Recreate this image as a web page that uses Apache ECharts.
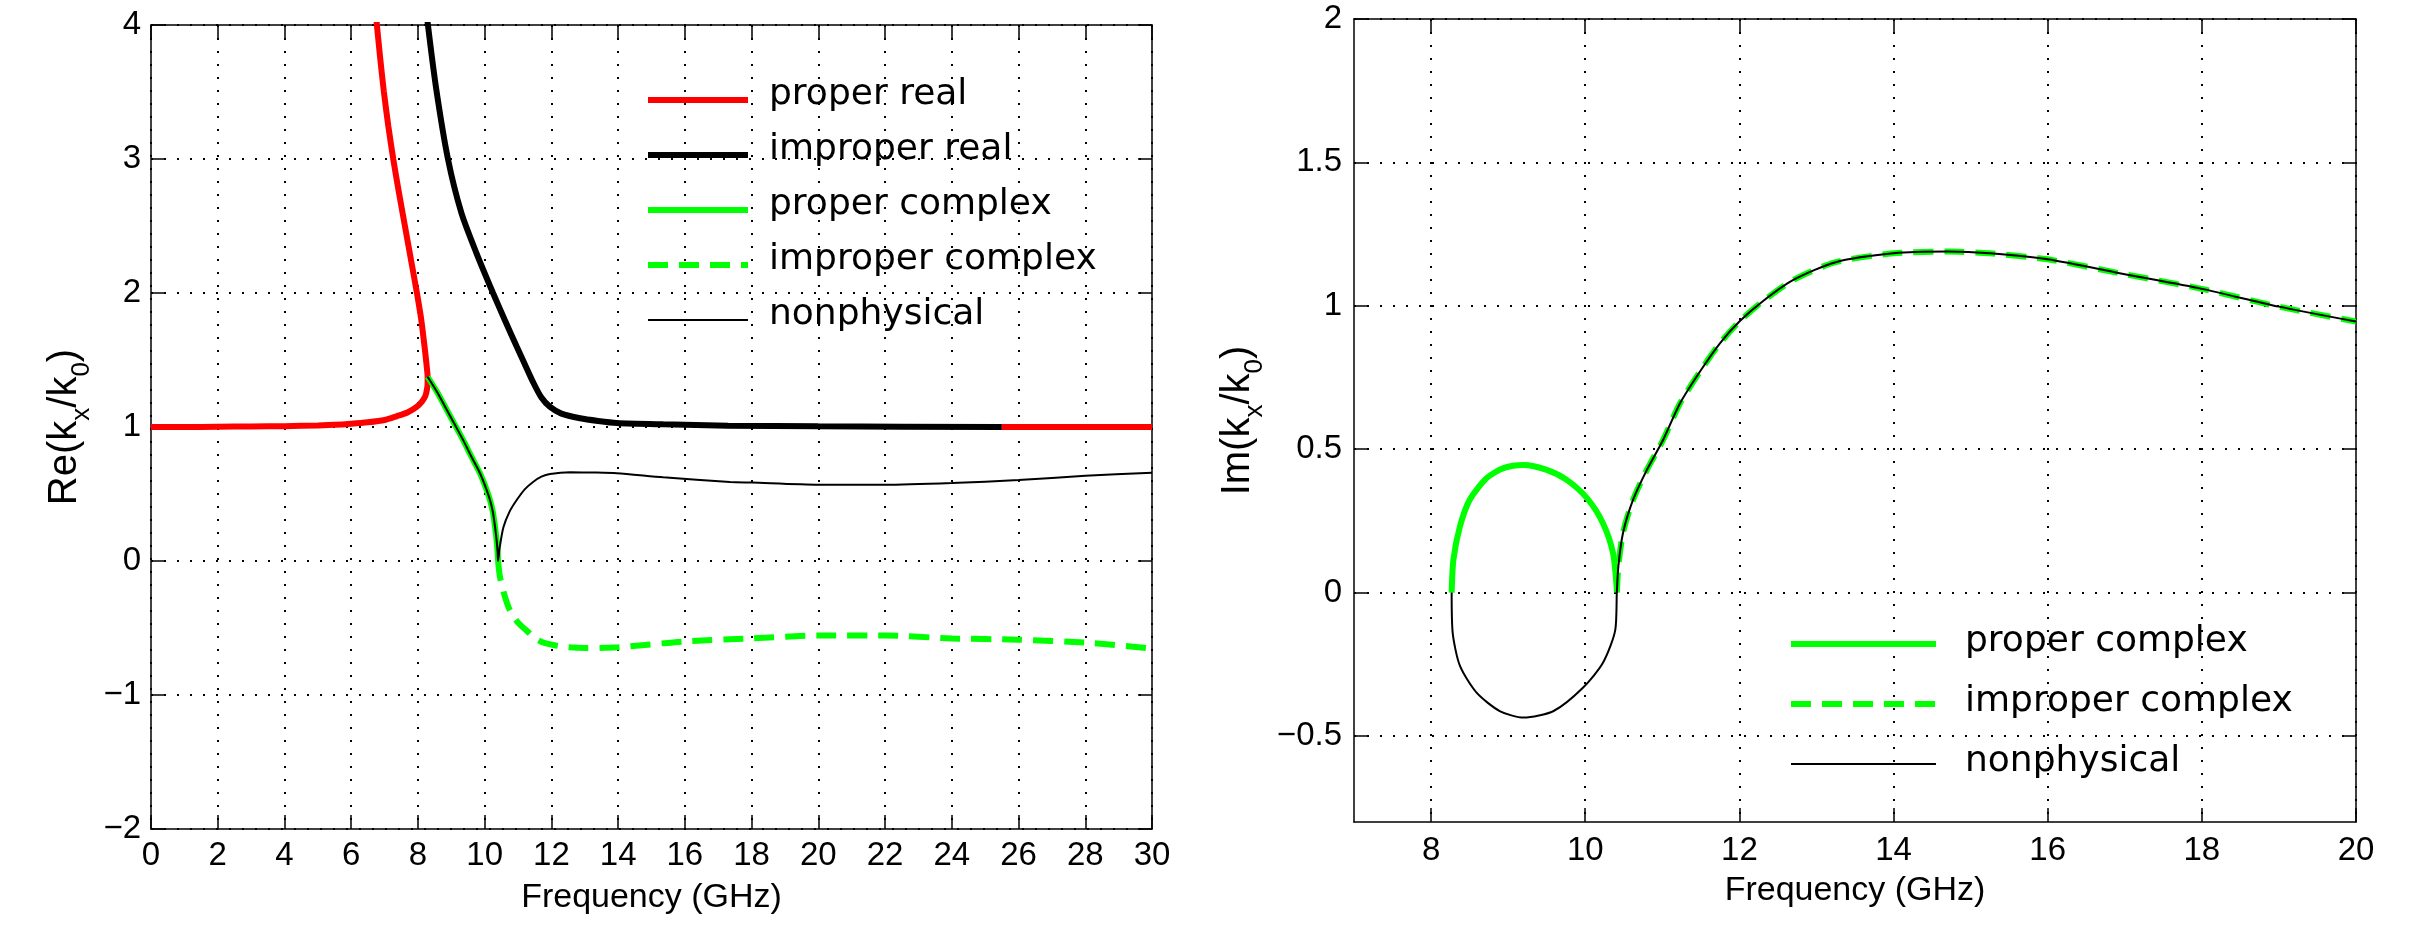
<!DOCTYPE html>
<html>
<head>
<meta charset="utf-8">
<script src="https://cdn.jsdelivr.net/npm/echarts@6/dist/echarts.min.js"></script>
<style>
html, body { margin: 0; padding: 0; background: #fff; }
#chart { width: 2420px; height: 933px; }
</style>
</head>
<body>
<div id="chart"></div>
<script>
// Re(kx/k0) panel -- [GHz, value]; branches are parametric so x is not monotonic
const reProperReal = [[0,1.0],[1,1.0],[2,1.002],[3,1.004],[4,1.006],[5,1.012],[5.5,1.016],[6,1.024],[6.5,1.035],[7,1.052],[7.36,1.08],[7.7,1.11],[7.96,1.15],[8.12,1.19],[8.22,1.23],[8.27,1.28],[8.29,1.33],[8.29,1.375],[8.26,1.46],[8.21,1.575],[8.1,1.8],[7.97,2.0],[7.79,2.25],[7.61,2.5],[7.43,2.75],[7.26,3.0],[7.11,3.25],[6.98,3.5],[6.87,3.75],[6.77,4.0],[6.69,4.2]];
const reProperRealTail = [[25.5,1.0],[30,1.0]];
const reImproperReal = [[8.22,4.2],[8.3,4.0],[8.55,3.52],[8.9,3.0],[9.3,2.6],[9.75,2.3],[10.25,2.0],[10.6,1.8],[10.96,1.6],[11.2,1.47],[11.46,1.33],[11.7,1.22],[11.96,1.15],[12.3,1.1],[12.86,1.065],[13.4,1.045],[13.96,1.03],[15.35,1.02],[17.3,1.01],[20,1.005],[25.5,1.0]];
const reProperComplex = [[8.29,1.375],[8.6,1.25],[8.86,1.13],[9.1,1.02],[9.36,0.9],[9.6,0.78],[9.86,0.655],[10.0,0.57],[10.16,0.455],[10.25,0.36],[10.31,0.256],[10.36,0.15],[10.39,0.06],[10.4,0]];
const reImproperComplex = [[10.4,0],[10.46,-0.12],[10.6,-0.26],[10.76,-0.37],[11.0,-0.46],[11.26,-0.52],[11.5,-0.575],[11.76,-0.61],[12.36,-0.64],[13,-0.65],[14,-0.644],[16,-0.6],[18,-0.578],[20,-0.556],[22,-0.556],[24,-0.578],[26,-0.587],[28,-0.609],[30,-0.653]];
const reNonphysicalUpper = [[10.4,0],[10.45,0.1],[10.56,0.25],[10.75,0.37],[10.96,0.455],[11.2,0.535],[11.46,0.592],[11.7,0.63],[11.96,0.65],[12.56,0.662],[13.3,0.66],[13.96,0.655],[15.35,0.625],[17.35,0.59],[18,0.585],[20,0.569],[22,0.569],[24,0.582],[26,0.604],[28,0.636],[30,0.658]];

// Im(kx/k0) panel
const imProperComplex = [[8.267,0],[8.29,0.115],[8.375,0.231],[8.5,0.323],[8.72,0.399],[8.94,0.434],[9.2,0.445],[9.5,0.428],[9.76,0.393],[10.02,0.33],[10.23,0.242],[10.36,0.138],[10.41,0.01]];
const imImproperComplex = [[10.41,0],[10.43,0.092],[10.49,0.208],[10.62,0.323],[10.8,0.428],[11.01,0.532],[11.23,0.66],[11.5,0.775],[11.75,0.87],[12,0.945],[12.3,1.015],[12.7,1.09],[13.25,1.152],[14,1.183],[14.7,1.189],[15.25,1.183],[16,1.162],[17,1.11],[18,1.059],[19,0.997],[20,0.945]];
const imNonphysicalLoop = [[8.267,0],[8.28,-0.14],[8.375,-0.256],[8.59,-0.349],[8.89,-0.413],[9.2,-0.436],[9.59,-0.413],[9.97,-0.332],[10.23,-0.245],[10.39,-0.13],[10.41,0]];

const imXTicks = [8, 10, 12, 14, 16, 18, 20];
const imYTicks = [-0.5, 0, 0.5, 1, 1.5, 2];
const legendNames = ['proper real', 'improper real', 'proper complex', 'improper complex', 'nonphysical'];

const font = 'Liberation Sans';
const black = '#000';
const green = '#00ff00';
const gridDots = { color: black, type: [2, 11], width: 2 };

const styles = {
   'proper real': { color: '#ff0000', width: 6 },
   'improper real': { color: black, width: 6 },
   'proper complex': { color: green, width: 6 },
   'improper complex': { color: green, width: 6, type: [20, 11] },
   'nonphysical': { color: black, width: 2 }
};

function minusSign(v) {
   return String(v).replace('-', '\u2212');
}

// bottom / left axis with labels and dotted grid
function labelledAxis(extra) {
   return Object.assign({
      type: 'value',
      axisLine: { show: true, onZero: false, lineStyle: { color: black, width: 1.5 } },
      axisTick: { show: true, inside: true, length: 14, lineStyle: { color: black, width: 1.5 } },
      axisLabel: { color: black, fontSize: 33, fontFamily: font, margin: 10, formatter: minusSign },
      splitLine: { show: true, lineStyle: gridDots },
      nameTextStyle: { color: black, fontSize: 34, fontFamily: font }
   }, extra);
}

// top / right box edge, ticks only
function boxAxis(extra) {
   return Object.assign({
      type: 'value',
      axisLine: { show: true, onZero: false, lineStyle: { color: black, width: 1.5 } },
      axisTick: { show: true, inside: true, length: 14, lineStyle: { color: black, width: 1.5 } },
      axisLabel: { show: false },
      splitLine: { show: false }
   }, extra);
}

function yName(prefix) {
   return {
      name: '{m|' + prefix + '(k}{s|x}{m|/k}{s|0}{m|)}',
      nameLocation: 'middle',
      nameTextStyle: {
         color: black,
         rich: {
            m: { fontSize: 40, lineHeight: 40, fontFamily: font, color: black, verticalAlign: 'top' },
            s: { fontSize: 26, lineHeight: 26, fontFamily: font, color: black, verticalAlign: 'top', padding: [24, 0, 0, 0] }
         }
      }
   };
}

function line(name, data, xi, yi) {
   return {
      name: name,
      type: 'line',
      xAxisIndex: xi,
      yAxisIndex: yi,
      data: data,
      symbol: 'none',
      showSymbol: false,
      smooth: 0.25,
      clip: true,
      silent: true,
      lineStyle: styles[name]
   };
}

function legendItems(names) {
   return names.map(n => ({ name: n, lineStyle: styles[n] }));
}

// legend text sits a little above its sample line, as in the original
function legendText(padding) {
   return {
      color: black,
      rich: { t: { fontFamily: 'DejaVu Sans', fontSize: 36, lineHeight: 36, color: black, padding: padding } }
   };
}

const chart = echarts.init(document.getElementById('chart'), null, { renderer: 'canvas' });

const option = {
   animation: false,
   backgroundColor: '#fff',
   textStyle: { fontFamily: font },
   grid: [
      { left: 151, right: 1268, top: 25, bottom: 104, outerBoundsMode: 'none' },
      { left: 1354, right: 64, top: 19, bottom: 111, outerBoundsMode: 'none' }
   ],
   xAxis: [
      labelledAxis({ gridIndex: 0, min: 0, max: 30, interval: 2, name: 'Frequency (GHz)', nameLocation: 'middle', nameGap: 52 }),
      boxAxis({ gridIndex: 0, position: 'top', min: 0, max: 30, interval: 2 }),
      labelledAxis({
         gridIndex: 1, min: 7, max: 20, name: 'Frequency (GHz)', nameLocation: 'middle', nameGap: 52,
         axisTick: { show: true, inside: true, length: 14, customValues: imXTicks, lineStyle: { color: black, width: 1.5 } },
         axisLabel: { color: black, fontSize: 33, fontFamily: font, margin: 12, customValues: imXTicks }
      }),
      boxAxis({
         gridIndex: 1, position: 'top', min: 7, max: 20,
         axisTick: { show: true, inside: true, length: 14, customValues: imXTicks, lineStyle: { color: black, width: 1.5 } }
      })
   ],
   yAxis: [
      labelledAxis(Object.assign({ gridIndex: 0, min: -2, max: 4, interval: 1, nameGap: 66 }, yName('Re'))),
      boxAxis({ gridIndex: 0, position: 'right', min: -2, max: 4, interval: 1 }),
      labelledAxis(Object.assign({
         gridIndex: 1, min: -0.8, max: 2, nameGap: 96,
         axisTick: { show: true, inside: true, length: 14, customValues: imYTicks, lineStyle: { color: black, width: 1.5 } },
         axisLabel: { color: black, fontSize: 33, fontFamily: font, margin: 12, customValues: imYTicks, formatter: minusSign }
      }, yName('Im'))),
      boxAxis({
         gridIndex: 1, position: 'right', min: -0.8, max: 2,
         axisTick: { show: true, inside: true, length: 14, customValues: imYTicks, lineStyle: { color: black, width: 1.5 } }
      })
   ],
   legend: [
      {
         data: legendItems(legendNames), orient: 'vertical', left: 640, top: 71.5,
         itemWidth: 100, itemHeight: 36, itemGap: 8, selectedMode: false,
         itemStyle: { opacity: 0 },
         formatter: n => '{t|' + n + '}',
         textStyle: legendText([0, 0, 11, 16])
      },
      {
         data: legendItems(legendNames.slice(2)), orient: 'vertical', left: 1783, top: 619,
         itemWidth: 145, itemHeight: 36, itemGap: 20, selectedMode: false,
         itemStyle: { opacity: 0 },
         formatter: n => '{t|' + n + '}',
         textStyle: legendText([0, 0, 4, 24])
      }
   ],
   series: [
      line('proper real', reProperReal, 0, 0),
      line('improper real', reImproperReal, 0, 0),
      line('proper real', reProperRealTail, 0, 0),
      line('proper complex', reProperComplex, 0, 0),
      line('improper complex', reImproperComplex, 0, 0),
      line('nonphysical', reProperComplex.concat(reNonphysicalUpper), 0, 0),
      line('proper complex', imProperComplex, 2, 2),
      line('improper complex', imImproperComplex, 2, 2),
      line('nonphysical', imNonphysicalLoop.concat(imImproperComplex), 2, 2)
   ]
};

chart.setOption(option);
</script>
</body>
</html>
